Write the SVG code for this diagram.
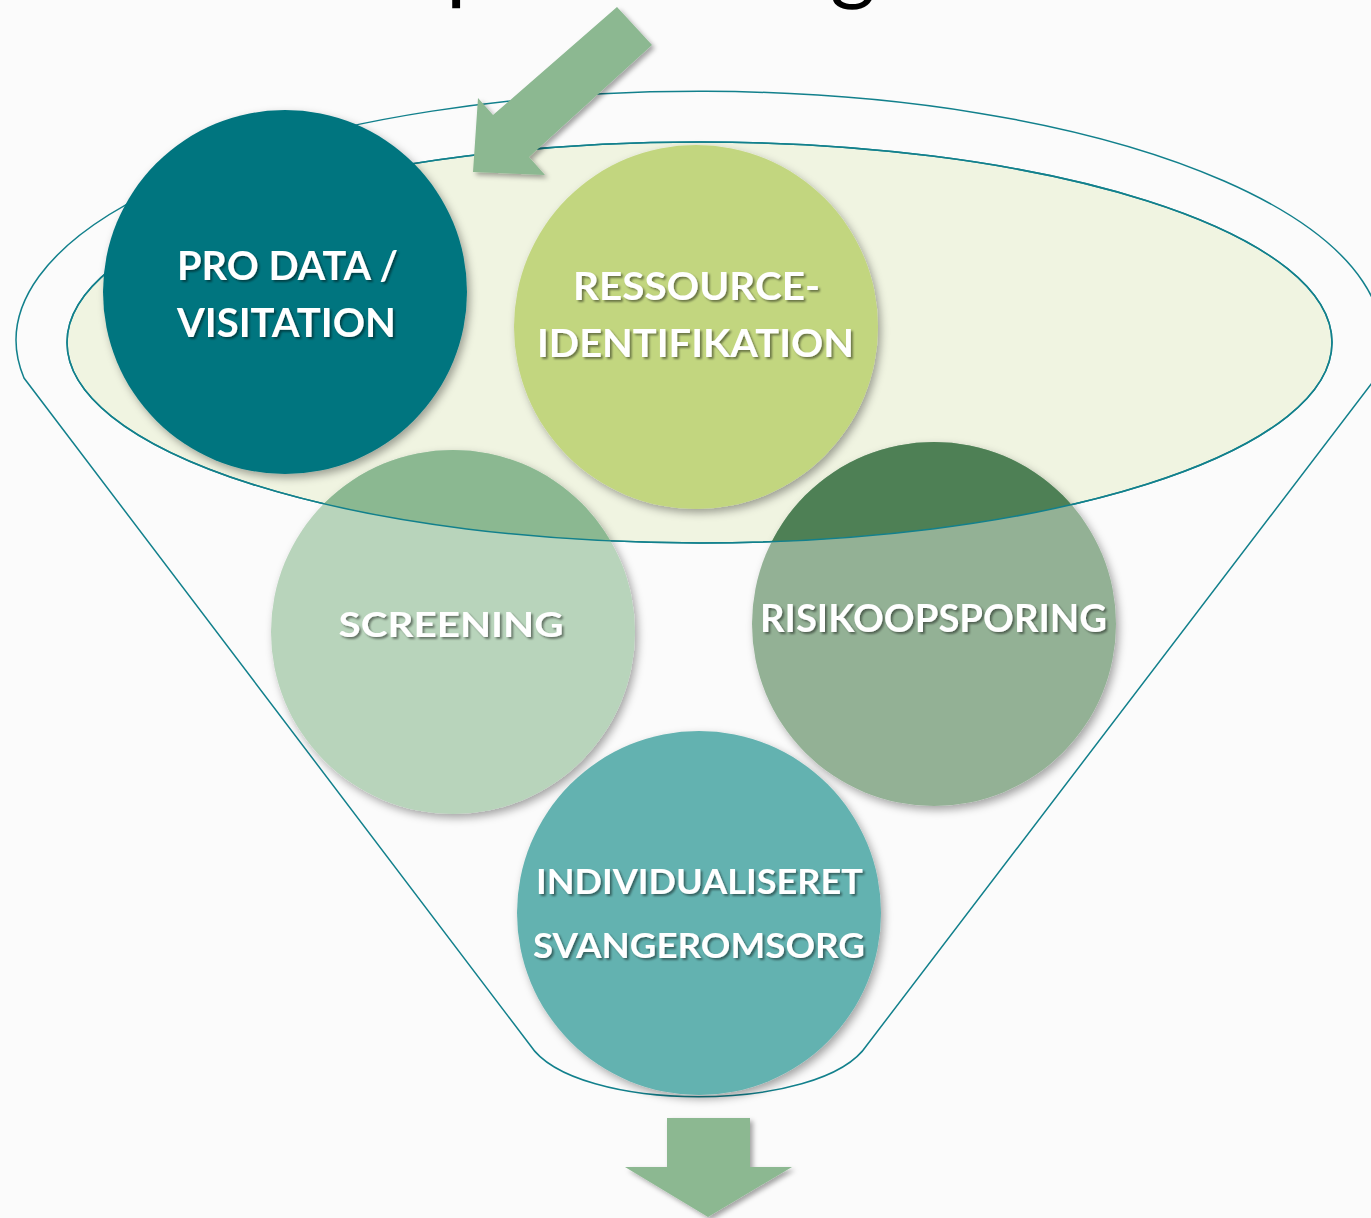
<svg xmlns="http://www.w3.org/2000/svg" width="1371" height="1218" viewBox="0 0 1371 1218">
  <style>
    .line { fill: none; stroke: #12808C; stroke-width: 1.5; }
    .lbl { font-family: Lato, "Open Sans", "Liberation Sans", sans-serif; font-weight: 700; fill: #FFFFFF; text-anchor: middle; filter: url(#txtShadow); }
    .arrow { fill: #8CB891; filter: url(#arrShadow); }
    .circ { filter: url(#circShadow); }
    .title { font-family: Lato, "Liberation Sans", sans-serif; font-weight: 400; fill: #000000; font-size: 88px; }
  </style>
  <defs>
    <filter id="circShadow" x="-20%" y="-20%" width="150%" height="150%">
      <feDropShadow dx="3" dy="4" stdDeviation="4" flood-color="#000000" flood-opacity="0.35"/>
    </filter>
    <filter id="arrShadow" x="-20%" y="-20%" width="150%" height="150%">
      <feDropShadow dx="3" dy="3" stdDeviation="2.5" flood-color="#000000" flood-opacity="0.35"/>
    </filter>
    <filter id="txtShadow" x="-10%" y="-30%" width="120%" height="170%">
      <feDropShadow dx="2" dy="2" stdDeviation="1.2" flood-color="#000000" flood-opacity="0.45"/>
    </filter>
    <clipPath id="innerClip">
      <ellipse cx="699.5" cy="342.5" rx="632.5" ry="200.5"/>
    </clipPath>
  </defs>

  <rect x="0" y="0" width="1371" height="1218" fill="#FBFBFB"/>

  <g id="title">
    <text class="title" x="446" y="-7">p</text>
    <text class="title" x="830" y="-7">g</text>
  </g>

  <g id="funnel">
    <path class="line" d="M24,378 A683,249 0 1 1 1372,383 L867,1045 C822,1114 575,1114 530,1045 Z"/>
    <ellipse cx="699.5" cy="342.5" rx="632.5" ry="200.5" fill="#F0F4E1" stroke="#12808C" stroke-width="1.5"/>
  </g>

  <g id="screening">
    <circle class="circ" cx="453" cy="632" r="182" fill="#B8D4BB"/>
    <circle cx="453" cy="632" r="182" fill="#8BB891" clip-path="url(#innerClip)"/>
    <text class="lbl" x="451" y="637" font-size="35" textLength="225" lengthAdjust="spacingAndGlyphs">SCREENING</text>
  </g>

  <g id="risikoopsporing">
    <circle class="circ" cx="934" cy="624" r="182" fill="#93B195"/>
    <circle cx="934" cy="624" r="182" fill="#4E8055" clip-path="url(#innerClip)"/>
    <text class="lbl" x="933.5" y="632" font-size="37.5" textLength="347" lengthAdjust="spacingAndGlyphs">RISIKOOPSPORING</text>
  </g>

  <g id="connectors">
    <ellipse class="line" cx="699.5" cy="342.5" rx="632.5" ry="200.5"/>
    <polygon class="arrow" points="617,7 652,45 529,157 545,175 473,172 478,98 493,115"/>
    <polygon class="arrow" points="667,1118 750,1118 750,1167 792,1167 708,1217 625,1167 667,1167"/>
  </g>

  <g id="pro-data">
    <circle class="circ" cx="285" cy="292" r="182" fill="#00747F"/>
    <text class="lbl" x="287.5" y="280" font-size="41" textLength="221" lengthAdjust="spacingAndGlyphs">PRO DATA /</text>
    <text class="lbl" x="286.5" y="337" font-size="41" textLength="219" lengthAdjust="spacingAndGlyphs">VISITATION</text>
  </g>

  <g id="ressource">
    <circle class="circ" cx="696" cy="327" r="182" fill="#C2D67F"/>
    <text class="lbl" x="696.5" y="300" font-size="39" textLength="247" lengthAdjust="spacingAndGlyphs">RESSOURCE-</text>
    <text class="lbl" x="695.5" y="357" font-size="39" textLength="317" lengthAdjust="spacingAndGlyphs">IDENTIFIKATION</text>
  </g>

  <g id="individualiseret">
    <circle class="circ" cx="699" cy="913" r="182" fill="#63B2B0"/>
    <text class="lbl" x="699.5" y="894" font-size="34" textLength="327" lengthAdjust="spacingAndGlyphs">INDIVIDUALISERET</text>
    <text class="lbl" x="699" y="958" font-size="34" textLength="332" lengthAdjust="spacingAndGlyphs">SVANGEROMSORG</text>
  </g>
</svg>
